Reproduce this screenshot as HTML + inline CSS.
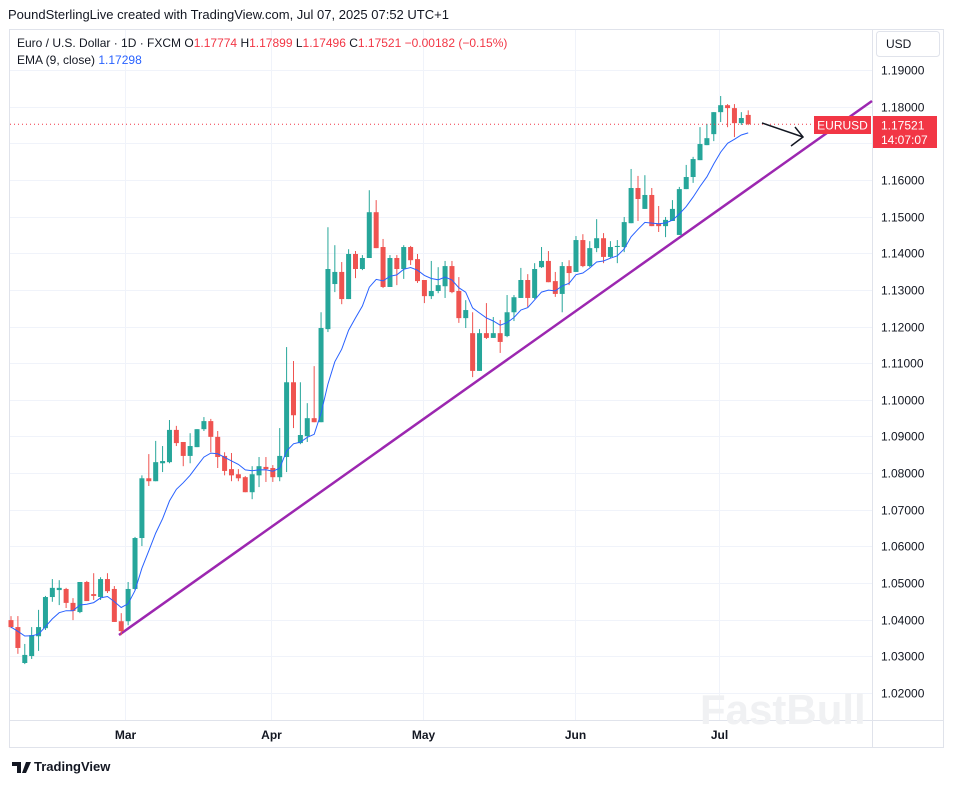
<!DOCTYPE html>
<html><head><meta charset="utf-8"><style>
body{margin:0;background:#fff;font-family:"Liberation Sans",sans-serif;}
svg text{font-family:"Liberation Sans",sans-serif;}
</style></head><body>
<svg id="c" width="954" height="783" viewBox="0 0 954 783" xmlns="http://www.w3.org/2000/svg">
<rect width="954" height="783" fill="#fff"/>
<text x="8" y="19" font-size="13" fill="#131722">PoundSterlingLive created with TradingView.com, Jul 07, 2025 07:52 UTC+1</text>
<rect x="9.5" y="29.5" width="934" height="718" fill="none" stroke="#e0e3eb"/>
<line x1="872.5" y1="30" x2="872.5" y2="748" stroke="#e0e3eb"/>
<line x1="10" y1="720.5" x2="943" y2="720.5" stroke="#e0e3eb"/>
<g id="grid"></g>
<g id="yt"></g>
<g id="xt"></g>
<text x="700" y="724" font-size="42" font-weight="bold" fill="#f0f1f3">FastBull</text>
<line x1="119" y1="635" x2="872" y2="101" stroke="#9c27b0" stroke-width="2.5"/>
<g id="candles"></g>
<polyline id="ema" fill="none" stroke="#2962ff" stroke-width="1"/>
<line id="lastline" x1="10" x2="872" stroke="#f23645" stroke-dasharray="1,3"/>
<g stroke="#131722" stroke-width="1.5" fill="none">
<line x1="762" y1="123" x2="803" y2="137"/><polyline points="795,127 803,137 791,146"/></g>
<rect x="814" y="116" width="57" height="18" fill="#f23645"/>
<text x="842.5" y="129.5" font-size="12" fill="#fff" text-anchor="middle">EURUSD</text>
<rect x="873" y="116" width="64" height="32" fill="#f23645"/>
<text x="881" y="129.5" font-size="12" fill="#fff">1.17521</text>
<text x="881" y="144" font-size="12" fill="#fff">14:07:07</text>
<rect x="876.5" y="31.5" width="63" height="25" rx="3" fill="#fff" stroke="#e0e3eb"/>
<text x="886" y="48" font-size="12" fill="#131722">USD</text>
<text x="17" y="47" font-size="12" fill="#131722">Euro / U.S. Dollar · 1D · FXCM <tspan fill="#131722">O</tspan><tspan fill="#f23645">1.17774</tspan> H<tspan fill="#f23645">1.17899</tspan> L<tspan fill="#f23645">1.17496</tspan> C<tspan fill="#f23645">1.17521 −0.00182 (−0.15%)</tspan></text>
<text x="17" y="64" font-size="12" fill="#131722">EMA (9, close) <tspan fill="#2962ff">1.17298</tspan></text>
<text x="34" y="771" font-size="13" font-weight="bold" fill="#131722">TradingView</text>
<path d="M12 762h9v11h-4v-7h-5z M22 773l4-11h5l-5 11z" fill="#131722"/>
</svg>
<script>
const opens=[1.0399,1.0380,1.0282,1.0301,1.0355,1.0377,1.0462,1.0481,1.0484,1.0446,1.0421,1.0503,1.0470,1.0462,1.0511,1.0484,1.0396,1.0396,1.0484,1.0623,1.0786,1.0778,1.0827,1.0830,1.0918,1.0885,1.0847,1.0871,1.0920,1.0942,1.0899,1.0847,1.0811,1.0797,1.0789,1.0748,1.0794,1.0817,1.0814,1.0789,1.0844,1.1048,1.0882,1.0901,1.0950,1.0939,1.1193,1.1316,1.1349,1.1275,1.1398,1.1357,1.1387,1.1512,1.1417,1.1308,1.1387,1.1357,1.1417,1.1384,1.1327,1.1283,1.1297,1.1310,1.1365,1.1297,1.1223,1.1182,1.1079,1.1182,1.1169,1.1182,1.1174,1.1239,1.1278,1.1327,1.1278,1.1362,1.1379,1.1324,1.1289,1.1365,1.1349,1.1436,1.1365,1.1414,1.1441,1.1390,1.1417,1.1417,1.1482,1.1578,1.1521,1.1559,1.1480,1.1474,1.1488,1.1450,1.1575,1.1608,1.1654,1.1695,1.1725,1.1785,1.1804,1.1796,1.1755,1.17774];
const highs=[1.0410,1.0410,1.0334,1.0380,1.0427,1.0465,1.0511,1.0508,1.0487,1.0459,1.0503,1.0506,1.0527,1.0516,1.0527,1.0492,1.0418,1.0503,1.0626,1.0794,1.0852,1.0888,1.0874,1.0945,1.0929,1.0885,1.0909,1.0920,1.0953,1.0948,1.0915,1.0857,1.0855,1.0811,1.0792,1.0819,1.0844,1.0844,1.0822,1.0923,1.1144,1.1106,1.1048,1.0991,1.1092,1.1239,1.1471,1.1422,1.1376,1.1411,1.1406,1.1395,1.1572,1.1545,1.1439,1.1395,1.1395,1.1422,1.1420,1.1398,1.1327,1.1379,1.1362,1.1379,1.1379,1.1335,1.1272,1.1239,1.1193,1.1264,1.1226,1.1218,1.1286,1.1286,1.1360,1.1343,1.1373,1.1417,1.1406,1.1349,1.1376,1.1381,1.1447,1.1452,1.1433,1.1493,1.1455,1.1433,1.1436,1.1499,1.1630,1.1611,1.1613,1.1578,1.1529,1.1499,1.1545,1.1581,1.1641,1.1663,1.1744,1.1753,1.1785,1.1829,1.1807,1.1807,1.1785,1.17899];
const lows=[1.0377,1.0307,1.0279,1.0293,1.0315,1.0372,1.0449,1.0440,1.0432,1.0399,1.0418,1.0454,1.0454,1.0454,1.0473,1.0394,1.0358,1.0385,1.0481,1.0601,1.0765,1.0778,1.0803,1.0827,1.0874,1.0819,1.0827,1.0871,1.0915,1.0857,1.0814,1.0794,1.0778,1.0778,1.0748,1.0729,1.0762,1.0776,1.0776,1.0778,1.0803,1.0923,1.0879,1.0885,1.0939,1.0939,1.1185,1.1294,1.1261,1.1275,1.1332,1.1354,1.1387,1.1414,1.1305,1.1308,1.1313,1.1330,1.1368,1.1319,1.1264,1.1275,1.1291,1.1278,1.1291,1.1210,1.1196,1.1062,1.1079,1.1166,1.1169,1.1128,1.1171,1.1215,1.1278,1.1253,1.1275,1.1360,1.1321,1.1281,1.1239,1.1313,1.1349,1.1362,1.1362,1.1403,1.1373,1.1387,1.1373,1.1403,1.1482,1.1488,1.1521,1.1474,1.1458,1.1444,1.1488,1.1450,1.1575,1.1592,1.1654,1.1695,1.1706,1.1758,1.1744,1.1717,1.1750,1.17496];
const closes=[1.0380,1.0323,1.0304,1.0358,1.0380,1.0462,1.0487,1.0487,1.0446,1.0424,1.0503,1.0451,1.0465,1.0511,1.0478,1.0394,1.0369,1.0484,1.0623,1.0786,1.0778,1.0830,1.0833,1.0918,1.0882,1.0847,1.0874,1.0920,1.0942,1.0899,1.0844,1.0806,1.0794,1.0786,1.0748,1.0797,1.0819,1.0811,1.0789,1.0847,1.1048,1.0958,1.0904,1.0950,1.0939,1.1196,1.1357,1.1349,1.1275,1.1398,1.1357,1.1387,1.1512,1.1414,1.1308,1.1387,1.1357,1.1417,1.1381,1.1324,1.1283,1.1297,1.1313,1.1365,1.1294,1.1223,1.1245,1.1079,1.1182,1.1169,1.1182,1.1158,1.1239,1.1280,1.1327,1.1278,1.1357,1.1379,1.1321,1.1289,1.1365,1.1346,1.1436,1.1365,1.1414,1.1441,1.1390,1.1417,1.1420,1.1485,1.1578,1.1548,1.1559,1.1474,1.1474,1.1491,1.1521,1.1575,1.1608,1.1657,1.1698,1.1714,1.1785,1.1804,1.1796,1.1755,1.1769,1.17521];
const yTicks=[1.19,1.18,1.17,1.16,1.15,1.14,1.13,1.12,1.11,1.10,1.09,1.08,1.07,1.06,1.05,1.04,1.03,1.02];
const monthLabels=["Mar","Apr","May","Jun","Jul"];
const monthIndex=[16.5,37.7,59.8,81.8,102.8];
const NS="http://www.w3.org/2000/svg";
function xS(i){return 11+i*6.89;}
function yS(p){return 70+(1.19-p)*3665;}
function mk(tag,attrs,parent){const e=document.createElementNS(NS,tag);for(const k in attrs)e.setAttribute(k,attrs[k]);parent.appendChild(e);return e;}
const grid=document.getElementById('grid'),yt=document.getElementById('yt'),xt=document.getElementById('xt'),cg=document.getElementById('candles');
yTicks.forEach(v=>{const y=Math.round(yS(v))+0.5;
const gl=mk('line',{x1:10,x2:872,y1:y,y2:y,stroke:'#f0f3fa'},grid);


const t=mk('text',{x:881,y:y+4,'font-size':12,fill:'#131722'},yt);t.textContent=v.toFixed(5);

});
monthLabels.forEach((m,k)=>{const x=Math.round(xS(monthIndex[k]))+0.5;
const gl=mk('line',{x1:x,x2:x,y1:30,y2:720,stroke:'#f0f3fa'},grid);


const t=mk('text',{x:x,y:739,'font-size':12,'font-weight':'bold',fill:'#131722','text-anchor':'middle'},xt);t.textContent=m;

});
opens.forEach((o,i)=>{const c=closes[i],up=c>=o,col=up?'#26a69a':'#ef5350',x=xS(i);
const w=mk('line',{x1:x,x2:x,y1:yS(highs[i]),y2:yS(lows[i]),stroke:col,'stroke-width':1},cg);


const t=Math.min(yS(o),yS(c)),h=Math.max(1,Math.abs(yS(o)-yS(c)));
const b=mk('rect',{x:x-2.5,y:t,width:5,height:h,fill:col},cg);

});
let e=closes[0];const k=2/10;const pts=[];
closes.forEach((c,i)=>{e=i==0?c:c*k+e*(1-k);pts.push(xS(i).toFixed(1)+','+yS(e).toFixed(1));});
document.getElementById('ema').setAttribute('points',pts.join(' '));
const ly=yS(closes[closes.length-1]);const ll=document.getElementById('lastline');ll.setAttribute('y1',ly);ll.setAttribute('y2',ly);
</script>
</body></html>
